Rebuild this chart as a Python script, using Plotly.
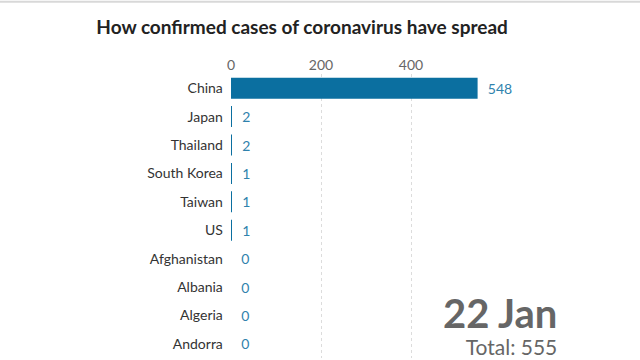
import plotly.graph_objects as go

countries = ["China", "Japan", "Thailand", "South Korea", "Taiwan", "US",
             "Afghanistan", "Albania", "Algeria", "Andorra"]
cases = [548, 2, 2, 1, 1, 1, 0, 0, 0, 0]
x_ticks = [0, 200, 400]
date_label = "22 Jan"
total_label = "Total: 555"

FONT = "Lato"

fig = go.Figure()
fig.add_trace(go.Bar(
    x=cases, y=countries, orientation="h",
    marker=dict(color="#0b6fa0", line=dict(width=0)),
    width=0.74,
    texttemplate="  %{x}", textposition="outside",
    textfont=dict(color="#2f82ad", size=14, family=FONT),
    cliponaxis=False,
))

fig.update_layout(
    width=640, height=360,
    margin=dict(l=231, r=139, t=74, b=2),
    paper_bgcolor="white", plot_bgcolor="white",
    showlegend=False,
    font=dict(family=FONT, color="#333"),
    title=dict(text="<b>How confirmed cases of coronavirus have spread</b>",
               x=0.472, xanchor="center", y=0.925, yanchor="middle",
               font=dict(size=19, color="#222", family=FONT)),
    xaxis=dict(range=[0, 600], side="top", tickvals=x_ticks,
               showgrid=True, gridcolor="#dcdcdc", griddash="dot", gridwidth=1,
               zeroline=False, showline=False, ticks="",
               tickfont=dict(size=14, color="#666", family=FONT)),
    yaxis=dict(autorange="reversed", showgrid=False, ticks="", showline=False,
               ticksuffix="  ",
               tickfont=dict(size=14, color="#333", family=FONT)),
    shapes=[dict(type="line", xref="paper", yref="paper", x0=-2, x1=2,
                 y0=1.254, y1=1.254, line=dict(color="#d8d8d8", width=2))],
    annotations=[
        dict(text="<b><span style='font-size:40px'>" + date_label
                  + "</span></b><br>" + total_label,
             xref="paper", yref="paper", align="right",
             x=1.215, y=-0.012, xanchor="right", yanchor="bottom", showarrow=False,
             font=dict(size=21, color="#666", family=FONT)),
    ],
)

fig.write_html("out.html", config={"displayModeBar": False},
               post_script="document.body.style.margin='0';document.body.style.overflow='hidden';")
